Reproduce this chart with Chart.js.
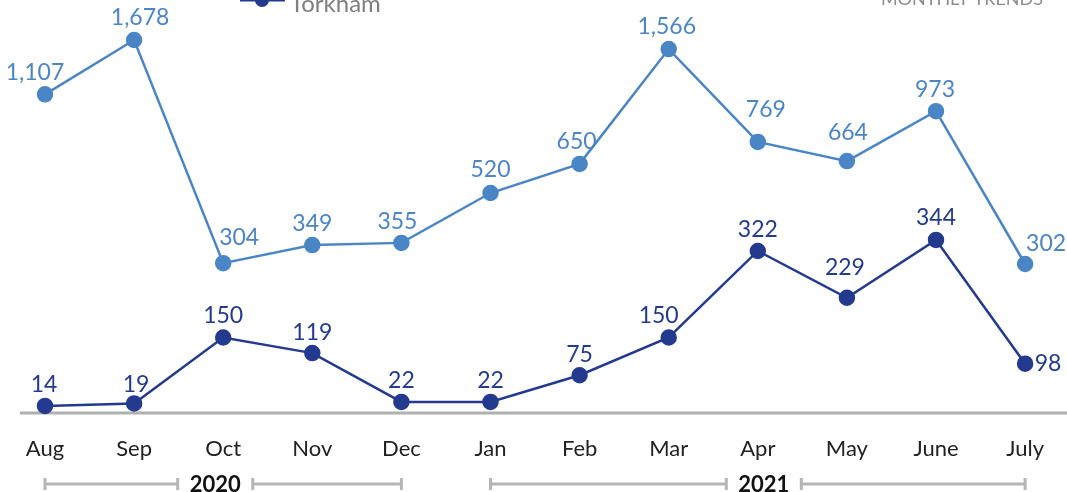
<!DOCTYPE html>
<html>
<head>
<meta charset="utf-8">
<script src="https://cdn.jsdelivr.net/npm/chart.js@4"></script>
<style>
  html, body { margin: 0; padding: 0; background: #fff; }
  canvas { display: block; }
</style>
</head>
<body>
<canvas id="trendChart" width="1067" height="492"></canvas>
<script>
// months along the axis
const months = ['Aug', 'Sep', 'Oct', 'Nov', 'Dec', 'Jan', 'Feb', 'Mar', 'Apr', 'May', 'June', 'July'];
// upper (light) series and Torkham
const totalValues = [1107, 1678, 304, 349, 355, 520, 650, 1566, 769, 664, 973, 302];
const torkhamValues = [14, 19, 150, 119, 22, 22, 75, 150, 322, 229, 344, 98];
// year groups under the axis (first and last month index)
const years = ['2020', '2021'];
const yearFirstMonth = [0, 5];
const yearLastMonth = [4, 11];

const LIGHT = '#4a85c6';
const DARK = '#233a8f';
const FONT = 'Lato, "Open Sans", sans-serif';

// where each value label sits relative to its point (dx, dy)
const totalLabelPos = [[-10, -22], [6, -22], [16, -26], [0, -22], [-4, -21], [0, -23], [-3, -22], [-2, -22], [8, -32], [1, -29], [-1, -22], [21, -20]];
const torkhamLabelPos = [[-1, -21], [2, -19], [0, -22], [0, -21], [0, -21], [0, -21], [0, -21], [-10, -22], [0, -21], [-2, -30], [0, -22], [23, 0]];

const fmt = v => v.toLocaleString('en-US');

// value labels next to the points
const valueLabels = {
  id: 'valueLabels',
  afterDatasetsDraw(chart) {
    const c = chart.ctx;
    c.save();
    c.font = '23px ' + FONT;
    c.textAlign = 'center';
    c.textBaseline = 'middle';
    chart.data.datasets.forEach((ds, i) => {
      const pos = i === 0 ? totalLabelPos : torkhamLabelPos;
      c.fillStyle = ds.borderColor;
      chart.getDatasetMeta(i).data.forEach((pt, j) => {
        c.fillText(fmt(ds.data[j]), pt.x + pos[j][0], pt.y + pos[j][1]);
      });
    });
    c.restore();
  }
};

// base line, year brackets, and the header texts cut at the top
const decorations = {
  id: 'decorations',
  beforeDatasetsDraw(chart) {
    const c = chart.ctx;
    const bottom = chart.chartArea.bottom;
    c.save();
    c.strokeStyle = '#b0b0b0';
    c.lineWidth = 3;
    c.beginPath();
    c.moveTo(20, bottom);
    c.lineTo(1067, bottom);
    c.stroke();
    c.restore();
  },
  afterDraw(chart) {
    const c = chart.ctx;
    const x = chart.scales.x;
    c.save();

    // year brackets
    const yy = 484;
    c.font = 'bold 22px ' + FONT;
    c.textAlign = 'center';
    c.textBaseline = 'middle';
    c.strokeStyle = '#b5b5b5';
    c.lineWidth = 3;
    years.forEach((yr, i) => {
      const x0 = x.getPixelForValue(yearFirstMonth[i]);
      const x1 = x.getPixelForValue(yearLastMonth[i]);
      const mid = (x0 + x1) / 2 + (i === 0 ? -8 : 6);
      const half = c.measureText(yr).width / 2 + 12;
      c.beginPath();
      c.moveTo(x0, yy); c.lineTo(mid - half, yy);
      c.moveTo(mid + half, yy); c.lineTo(x1, yy);
      [x0, mid - half, mid + half, x1].forEach(px => {
        c.moveTo(px, yy - 6); c.lineTo(px, yy + 6);
      });
      c.stroke();
      c.fillStyle = '#111';
      c.fillText(yr, mid, yy + 1);
    });

    // legend entry (partly above the picture)
    c.strokeStyle = DARK;
    c.fillStyle = DARK;
    c.lineWidth = 3;
    c.beginPath();
    c.moveTo(240, 0); c.lineTo(285, 0);
    c.stroke();
    c.beginPath();
    c.arc(262, 0, 7, 0, Math.PI * 2);
    c.fill();
    c.font = '24px ' + FONT;
    c.textAlign = 'left';
    c.textBaseline = 'alphabetic';
    c.fillStyle = '#7f7f7f';
    c.fillText('Torkham', 290, 12);

    c.font = '18px ' + FONT;
    c.textAlign = 'right';
    c.fillStyle = '#8c8c8c';
    c.fillText('MONTHLY TRENDS', 1043, 5);
    c.restore();
  }
};

new Chart(document.getElementById('trendChart'), {
  type: 'line',
  data: {
    labels: months,
    datasets: [
      {
        label: 'Total',
        data: totalValues,
        yAxisID: 'yTotal',
        borderColor: LIGHT,
        backgroundColor: LIGHT,
        pointBackgroundColor: LIGHT,
        borderWidth: 2.5,
        pointRadius: 7,
        pointHoverRadius: 7,
        tension: 0,
        clip: false
      },
      {
        label: 'Torkham',
        data: torkhamValues,
        yAxisID: 'yTorkham',
        borderColor: DARK,
        backgroundColor: DARK,
        pointBackgroundColor: DARK,
        borderWidth: 2.5,
        pointRadius: 7,
        pointHoverRadius: 7,
        tension: 0,
        clip: false
      }
    ]
  },
  options: {
    responsive: false,
    animation: false,
    devicePixelRatio: 1,
    layout: { padding: { left: 45, right: 30, top: 20, bottom: 6.6 } },
    plugins: {
      legend: { display: false },
      tooltip: { enabled: false }
    },
    scales: {
      x: {
        grid: { display: false, drawTicks: false },
        border: { display: false },
        ticks: {
          color: '#222',
          font: { family: FONT, size: 22 },
          padding: 23,
          maxRotation: 0,
          autoSkip: false
        }
      },
      yTotal: {
        type: 'logarithmic',
        display: false,
        min: 96.5,
        max: 1956
      },
      yTorkham: {
        type: 'linear',
        display: false,
        min: 0,
        max: 781
      }
    }
  },
  plugins: [decorations, valueLabels]
});
</script>
</body>
</html>
